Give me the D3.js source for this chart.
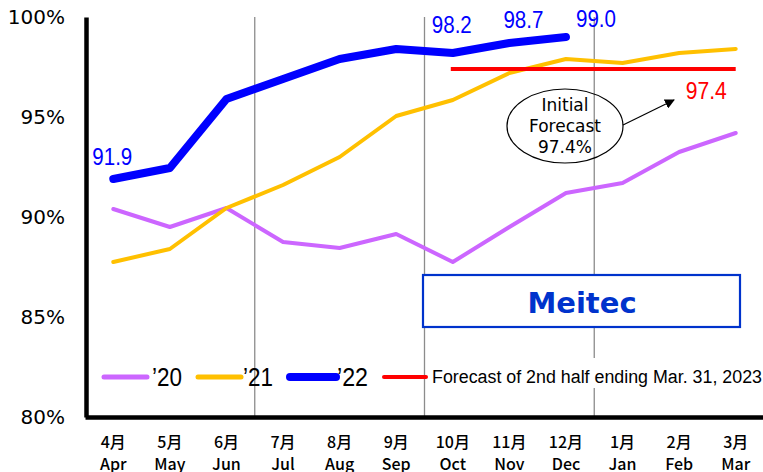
<!DOCTYPE html>
<html>
<head>
<meta charset="utf-8">
<script src="https://cdn.jsdelivr.net/npm/d3@7/dist/d3.min.js"></script>
<style>
  html, body { margin: 0; padding: 0; background: #fff; }
  svg { display: block; }
</style>
</head>
<body>
<svg id="chart" width="763" height="472"></svg>
<script>
// Monthly operating rate, fiscal year April–March
const monthsJa = ["4月","5月","6月","7月","8月","9月","10月","11月","12月","1月","2月","3月"];
const monthsEn = ["Apr","May","Jun","Jul","Aug","Sep","Oct","Nov","Dec","Jan","Feb","Mar"];
const yTicks = [80, 85, 90, 95, 100];

const rate20 = [90.4, 89.5, 90.45, 88.75, 88.45, 89.15, 87.75, 89.5, 91.2, 91.7, 93.25, 94.2];
const rate21 = [87.75, 88.4, 90.45, 91.6, 93.0, 95.05, 95.85, 97.2, 97.9, 97.7, 98.2, 98.4];
const rate22 = [91.9, 92.45, 95.9, 96.9, 97.9, 98.4, 98.2, 98.7, 99.0];

const forecastValue = 97.4;
const forecastMonths = ["Oct", "Mar"];
const labelled22 = ["Apr", "Oct", "Nov", "Dec"];
const quarterStarts = ["Jul", "Oct", "Jan"];

const legendNames = ["’20", "’21", "’22", "Forecast of 2nd half ending Mar. 31, 2023"];

const svg = d3.select("#chart");

const x = d3.scaleBand().domain(monthsEn).range([85, 764]).padding(0);
const cx = m => x(m) + x.bandwidth() / 2;
const y = d3.scaleLinear().domain([80, 100]).range([417, 17]);

// quarter separators
svg.append("g").selectAll("line").data(quarterStarts).join("line")
  .attr("x1", d => x(d)).attr("x2", d => x(d))
  .attr("y1", y(100)).attr("y2", y(80))
  .attr("stroke", "#8c8c8c").attr("stroke-width", 1.3);

// company name box
svg.append("rect").attr("x", 423).attr("y", 275).attr("width", 317).attr("height", 52)
  .attr("fill", "#fff").attr("stroke", "#0033cc").attr("stroke-width", 2.2);
svg.append("text").attr("x", 582).attr("y", 313).attr("text-anchor", "middle")
  .attr("font-family", "DejaVu Sans").attr("font-weight", "bold").attr("font-size", 29)
  .attr("fill", "#0033cc").text("Meitec");

// axes
const yAxis = d3.axisLeft(y).tickValues(yTicks).tickFormat(d => d + "%").tickSize(0).tickSizeOuter(0).tickPadding(21);
const gy = svg.append("g").attr("transform", "translate(86,0)").call(yAxis);
gy.select(".domain").attr("stroke", "#000").attr("stroke-width", 4.5);
gy.selectAll("text").attr("font-family", "DejaVu Sans").attr("font-size", 20).attr("fill", "#000");

const xAxis = d3.axisBottom(x).tickSize(0).tickSizeOuter(0).tickFormat("");
const gx = svg.append("g").attr("transform", "translate(0,417)").call(xAxis);
gx.select(".domain").attr("stroke", "#000").attr("stroke-width", 4.5);
gx.selectAll(".tick").each(function(d, i) {
  const t = d3.select(this).append("text").attr("text-anchor", "middle")
    .attr("font-family", "Noto Sans CJK JP").attr("font-weight", 500).attr("font-size", 16).attr("fill", "#000");
  t.append("tspan").attr("x", 0).attr("y", 31).text(monthsJa[i]);
  t.append("tspan").attr("x", 0).attr("y", 53).text(monthsEn[i]);
});

// legend background
svg.append("rect").attr("x", 430).attr("y", 358).attr("width", 333).attr("height", 30).attr("fill", "#fff");

// series
const line = d3.line().x((d, i) => cx(monthsEn[i])).y(d => y(d));
const series = [
  { vals: rate20, color: "#cc66ff", w: 4 },
  { vals: rate21, color: "#ffc000", w: 4 },
  { vals: rate22, color: "#0000ff", w: 8 }
];
svg.append("g").selectAll("path").data(series).join("path")
  .attr("d", d => line(d.vals))
  .attr("fill", "none").attr("stroke", d => d.color).attr("stroke-width", d => d.w)
  .attr("stroke-linejoin", "round").attr("stroke-linecap", "round");

// second-half forecast
svg.append("line")
  .attr("x1", cx(forecastMonths[0]) - 2).attr("x2", cx(forecastMonths[1]))
  .attr("y1", y(forecastValue)).attr("y2", y(forecastValue))
  .attr("stroke", "#ff0000").attr("stroke-width", 4);

// value labels
const labelOffset = { Apr: [-1, -14], Oct: [-1, -20], Nov: [14, -15], Dec: [30, -10] };
svg.append("g").selectAll("text").data(labelled22).join("text")
  .attr("x", d => cx(d) + labelOffset[d][0] - 20)
  .attr("y", d => y(rate22[monthsEn.indexOf(d)]) + labelOffset[d][1])
  .attr("textLength", 40).attr("lengthAdjust", "spacingAndGlyphs")
  .attr("font-family", "Liberation Sans").attr("font-size", 23).attr("fill", "#0000ff")
  .text(d => rate22[monthsEn.indexOf(d)].toFixed(1));

svg.append("text")
  .attr("x", cx("Mar") - 50).attr("y", y(forecastValue) + 30)
  .attr("textLength", 41).attr("lengthAdjust", "spacingAndGlyphs")
  .attr("font-family", "Liberation Sans").attr("font-size", 23).attr("fill", "#ff0000")
  .text(forecastValue.toFixed(1));

// initial forecast callout
const defs = svg.append("defs");
defs.append("marker").attr("id", "arrowhead").attr("viewBox", "0 0 10 10")
  .attr("refX", 9).attr("refY", 5).attr("markerWidth", 10).attr("markerHeight", 10)
  .attr("markerUnits", "userSpaceOnUse").attr("orient", "auto")
  .append("path").attr("d", "M0,0 L10,5 L0,10 Z").attr("fill", "#000");

svg.append("ellipse").attr("cx", 565).attr("cy", 126).attr("rx", 58).attr("ry", 37)
  .attr("fill", "none").attr("stroke", "#000").attr("stroke-width", 1.2);
const callout = svg.append("text").attr("text-anchor", "middle")
  .attr("font-family", "DejaVu Sans").attr("font-size", 17).attr("fill", "#000");
["Initial", "Forecast", forecastValue.toFixed(1) + "%"].forEach((s, i) => {
  callout.append("tspan").attr("x", 565).attr("y", 111 + i * 21).text(s);
});
svg.append("line").attr("x1", 623).attr("y1", 125).attr("x2", 674).attr("y2", 100)
  .attr("stroke", "#000").attr("stroke-width", 1.2).attr("marker-end", "url(#arrowhead)");

// legend
const legendLayout = [
  { x1: 104, x2: 147, tx: 152, tl: 30, color: "#cc66ff", w: 5, cap: "round", fs: 26 },
  { x1: 198, x2: 241, tx: 243, tl: 30, color: "#ffc000", w: 5, cap: "round", fs: 26 },
  { x1: 290, x2: 336, tx: 337, tl: 31, color: "#0000ff", w: 8, cap: "round", fs: 26 },
  { x1: 384, x2: 426, tx: 432, tl: 330, color: "#ff0000", w: 4, cap: "round", fs: 18 }
];
const lg = svg.append("g").selectAll("g").data(legendLayout).join("g");
lg.append("line").attr("x1", d => d.x1).attr("x2", d => d.x2).attr("y1", 377).attr("y2", 377)
  .attr("stroke", d => d.color).attr("stroke-width", d => d.w).attr("stroke-linecap", d => d.cap);
lg.append("text").attr("x", d => d.tx).attr("y", (d, i) => i < 3 ? 386 : 383)
  .attr("textLength", d => d.tl).attr("lengthAdjust", "spacingAndGlyphs")
  .attr("font-family", "Liberation Sans").attr("font-size", d => d.fs).attr("fill", "#000")
  .text((d, i) => legendNames[i]);
</script>
</body>
</html>
